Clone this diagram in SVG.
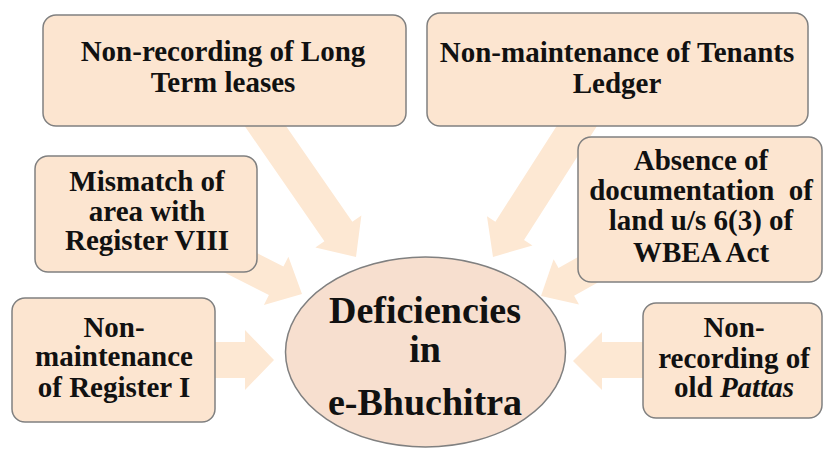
<svg xmlns="http://www.w3.org/2000/svg" width="824" height="457" viewBox="0 0 824 457">
<style>
.box{fill:#fce5d0;stroke:#808080;stroke-width:1.5}
.ell{fill:#f7dfcf;stroke:#808080;stroke-width:1.5}
.arr{fill:#fde8d3}
.t{font-family:"Liberation Serif","Times New Roman",serif;font-weight:bold;font-size:29px;fill:#111;text-anchor:middle}
.big{font-family:"Liberation Serif","Times New Roman",serif;font-weight:bold;font-size:38px;fill:#111;text-anchor:middle}
</style>
<rect width="824" height="457" fill="#ffffff"/>
<g id="connectors">
  <polygon class="arr" transform="translate(356,257) rotate(55.3)" points="-178,-17 -31,-17 -31,-28 0,0 -31,28 -31,17 -178,17"/>
  <polygon class="arr" transform="translate(493,257) rotate(122.6)" points="-178,-17 -31,-17 -31,-27 0,0 -31,27 -31,17 -178,17"/>
  <polygon class="arr" transform="translate(302,294) rotate(27)" points="-90,-16 -29,-16 -29,-27 0,0 -29,27 -29,16 -90,16"/>
  <polygon class="arr" transform="translate(541,296) rotate(150.8)" points="-90,-16 -29,-16 -29,-26 0,0 -29,26 -29,16 -90,16"/>
  <polygon class="arr" points="210,342 245,342 245,330 274,360 245,390 245,378 210,378"/>
  <polygon class="arr" points="648,342 602,342 602,332 573,361 602,390 602,378 648,378"/>
</g>
<g id="n-long-term">
  <rect class="box" x="43" y="15" width="363" height="111" rx="13"/>
  <text class="t" x="223" y="61">Non-recording of Long</text>
  <text class="t" x="223" y="92">Term leases</text>
</g>
<g id="n-tenants">
  <rect class="box" x="427" y="13" width="381" height="113" rx="13"/>
  <text class="t" x="617" y="62">Non-maintenance of Tenants</text>
  <text class="t" x="617" y="93">Ledger</text>
</g>
<g id="n-mismatch">
  <rect class="box" x="35" y="156" width="222" height="116" rx="13"/>
  <text class="t" x="147" y="191">Mismatch of</text>
  <text class="t" x="147" y="221">area with</text>
  <text class="t" x="147" y="250">Register VIII</text>
</g>
<g id="n-register1">
  <rect class="box" x="12" y="298" width="203" height="124" rx="13"/>
  <text class="t" x="114" y="337">Non-</text>
  <text class="t" x="114" y="366">maintenance</text>
  <text class="t" x="114" y="397">of Register I</text>
</g>
<g id="n-absence">
  <rect class="box" x="578" y="137" width="244" height="145" rx="13"/>
  <text class="t" x="701" y="170">Absence of</text>
  <text class="t" x="701" y="200" word-spacing="7">documentation of</text>
  <text class="t" x="701" y="230">land u/s 6(3) of</text>
  <text class="t" x="701" y="262">WBEA Act</text>
</g>
<g id="n-pattas">
  <rect class="box" x="643" y="303" width="179" height="115" rx="13"/>
  <text class="t" x="734" y="337">Non-</text>
  <text class="t" x="734" y="368">recording of</text>
  <text class="t" x="734" y="397">old <tspan font-style="italic">Pattas</tspan></text>
</g>
<g id="n-center">
  <ellipse class="ell" cx="425.5" cy="352" rx="140" ry="95"/>
  <text class="big" x="425" y="323">Deficiencies</text>
  <text class="big" x="425" y="362">in</text>
  <text class="big" x="425" y="415">e-Bhuchitra</text>
</g>
</svg>
